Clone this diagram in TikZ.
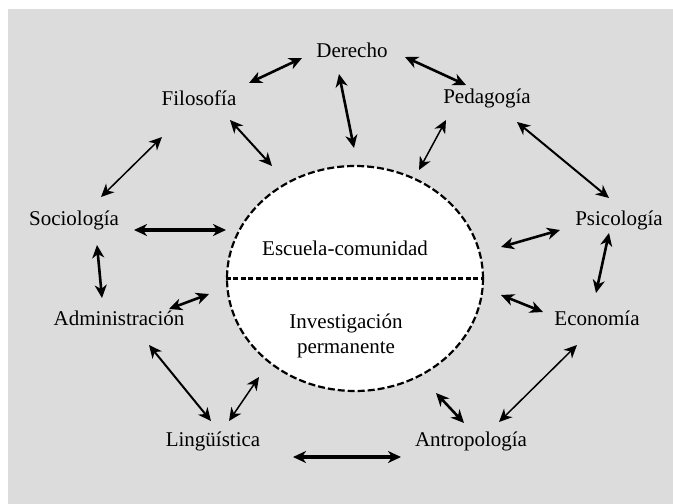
\documentclass[tikz,border=0pt]{standalone}
\usepackage{fontspec}
\setmainfont{Liberation Serif}
\usetikzlibrary{arrows.meta,shapes.geometric}
\definecolor{bggray}{HTML}{DCDCDC}
\begin{document}
\begin{tikzpicture}[x=1pt,y=-1pt,
  lbl/.style={font=\fontsize{21}{25}\selectfont, inner sep=0pt},
  link/.style={{Stealth[length=13pt,width=12pt,inset=4pt]}-{Stealth[length=13pt,width=12pt,inset=4pt]}, line width=2.6pt},
  thinlink/.style={link, line width=1.5pt},
  medlink/.style={link, line width=2pt},
  biglink/.style={link, line width=3.2pt}
]
\useasboundingbox (0,0) rectangle (673,504);
\fill[white] (0,0) rectangle (673,504);
\fill[bggray] (8,9) rectangle (673,504);

% central ellipse
\node[ellipse, draw, dash pattern=on 7pt off 3pt, line width=2.2pt, fill=white,
      minimum width=256pt, minimum height=225pt, inner sep=0pt] (centro) at (355,278.5) {};
\draw[dash pattern=on 5pt off 2.5pt, line width=2.2pt] (centro.west) -- (centro.east);
\node[lbl] (escuela) at (345,248) {Escuela-comunidad};
\node[lbl, align=center] (invest) at (346,336) {Investigación\\permanente};

% outer labels
\node[lbl] (der) at (352,50) {Derecho};
\node[lbl] (fil) at (199,98) {Filosofía};
\node[lbl] (ped) at (487,98) {Pedagogía};
\node[lbl] (soc) at (74,220) {Sociología};
\node[lbl] (psi) at (619,220) {Psicología};
\node[lbl] (adm) at (119,318) {Administración};
\node[lbl] (eco) at (597,318) {Economía};
\node[lbl] (lin) at (213,441) {Lingüística};
\node[lbl] (ant) at (471,441) {Antropología};

% connector end points
\coordinate (fd1) at (249,83);  \coordinate (fd2) at (302,58);
\coordinate (dp1) at (405,57);  \coordinate (dp2) at (466,85);
\coordinate (dc1) at (339,74);  \coordinate (dc2) at (354,148);
\coordinate (fc1) at (230,120); \coordinate (fc2) at (272,166);
\coordinate (pc1) at (446,120); \coordinate (pc2) at (419,170);
\coordinate (pp1) at (517,122); \coordinate (pp2) at (609,198);
\coordinate (fs1) at (162,137); \coordinate (fs2) at (101,197);
\coordinate (sc1) at (134,230); \coordinate (sc2) at (226,230);
\coordinate (sa1) at (97,245);  \coordinate (sa2) at (102,298);
\coordinate (ac1) at (169,309); \coordinate (ac2) at (209,294);
\coordinate (ps1) at (560,230); \coordinate (ps2) at (501,247);
\coordinate (pe1) at (609,233); \coordinate (pe2) at (596,293);
\coordinate (ec1) at (543,312); \coordinate (ec2) at (501,295);
\coordinate (al1) at (149,345); \coordinate (al2) at (211,421);
\coordinate (lc1) at (229,421); \coordinate (lc2) at (259,377);
\coordinate (ea1) at (577,345); \coordinate (ea2) at (499,422);
\coordinate (ac3) at (436,393); \coordinate (ac4) at (464,423);
\coordinate (la1) at (293,457); \coordinate (la2) at (401,457);

\draw[link] (fd1) -- (fd2);
\draw[link] (dp1) -- (dp2);
\draw[link] (dc1) -- (dc2);
\draw[medlink] (fc1) -- (fc2);
\draw[thinlink] (pc1) -- (pc2);
\draw[medlink] (pp1) -- (pp2);
\draw[thinlink] (fs1) -- (fs2);
\draw[biglink] (sc1) -- (sc2);
\draw[link] (sa1) -- (sa2);
\draw[link] (ac1) -- (ac2);
\draw[link] (ps1) -- (ps2);
\draw[link] (pe1) -- (pe2);
\draw[link] (ec1) -- (ec2);
\draw[medlink] (al1) -- (al2);
\draw[thinlink] (lc1) -- (lc2);
\draw[thinlink] (ea1) -- (ea2);
\draw[link] (ac3) -- (ac4);
\draw[biglink] (la1) -- (la2);
\end{tikzpicture}
\end{document}
